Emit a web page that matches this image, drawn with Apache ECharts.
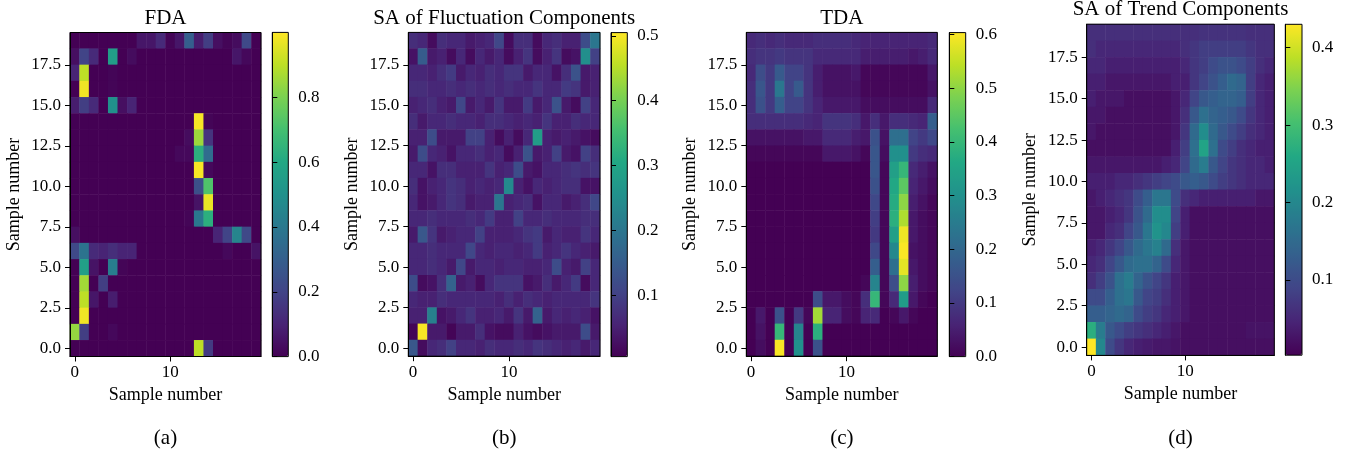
<!DOCTYPE html>
<html><head><meta charset="utf-8">
<script src="https://cdn.jsdelivr.net/npm/echarts@6/dist/echarts.min.js"></script>
<style>html,body{margin:0;padding:0;background:#fff}#c{width:1346px;height:456px}</style>
</head><body><div id="c"></div><script>
// ---------------- data ----------------
const sampleIdx = [0,1,2,3,4,5,6,7,8,9,10,11,12,13,14,15,16,17,18,19];
const xTicks = [0, 10];
const yTicks = [0, 2.5, 5, 7.5, 10, 12.5, 15, 17.5];
const titles = ['FDA', 'SA of Fluctuation Components', 'TDA', 'SA of Trend Components'];
const panelLabels = ['(a)', '(b)', '(c)', '(d)'];
const cbarTicks = [[0, 0.2, 0.4, 0.6, 0.8], [0.1, 0.2, 0.3, 0.4, 0.5], [0, 0.1, 0.2, 0.3, 0.4, 0.5, 0.6], [0.1, 0.2, 0.3, 0.4]];
const cbarMin = [0, 0.005, 0, 0.003];
const cbarMax = [1.0, 0.505, 0.604, 0.43];

// rows listed from top (sample 19) to bottom (sample 0)
const fdaRows = [
[0,0,0,0,0,0,0,0.06,0.06,0.12,0.01,0.06,0.3,0.08,0.18,0.04,0.01,0.03,0.22,0],
[0.04,0.2,0.12,0,0.55,0,0.03,0,0,0,0,0,0,0,0,0,0,0.06,0.02,0],
[0.1,0.9,0,0,0.01,0,0,0,0,0,0,0,0,0,0,0,0,0,0,0],
[0,0.98,0,0,0.01,0,0,0,0,0,0,0,0,0,0,0,0,0,0,0],
[0.08,0.18,0.12,0,0.5,0.04,0.1,0,0,0,0,0,0,0,0,0,0,0,0,0],
[0,0,0,0,0,0,0,0,0,0,0,0,0,0.99,0.01,0,0,0,0,0],
[0,0,0,0,0,0,0,0,0,0,0,0,0.03,0.85,0.15,0,0,0,0,0],
[0,0,0,0,0,0,0,0,0,0,0,0.02,0.02,0.63,0.35,0,0,0,0,0],
[0,0,0,0,0,0,0,0,0,0,0,0,0,0.99,0.02,0,0,0,0,0],
[0,0,0,0,0,0,0,0,0,0,0,0,0,0.24,0.72,0,0,0,0,0],
[0,0,0,0,0,0,0,0,0,0,0,0,0,0.05,0.97,0,0,0,0,0],
[0,0,0,0,0,0,0,0,0,0,0,0,0.01,0.4,0.63,0,0,0,0,0],
[0.04,0,0,0,0,0,0,0,0,0,0,0,0,0,0,0.1,0.2,0.45,0.22,0],
[0.22,0.38,0.12,0.1,0.13,0.1,0.1,0,0,0,0,0,0,0,0,0,0.02,0,0,0.05],
[0,0.56,0.05,0,0.42,0.01,0,0,0,0,0,0,0,0,0,0,0,0,0,0],
[0,0.86,0,0.18,0,0,0,0,0,0,0,0,0,0,0,0,0,0,0,0],
[0,0.9,0.06,0,0.08,0,0,0,0,0,0,0,0,0,0,0,0,0,0,0],
[0,0.98,0,0,0,0,0,0,0,0,0,0,0,0,0,0,0,0,0,0],
[0.84,0.18,0,0,0.02,0,0,0,0,0,0,0,0,0,0,0,0,0,0,0],
[0,0,0,0,0,0,0,0,0,0,0,0,0,0.9,0.17,0,0,0,0,0]
];
const fluctRows = [
[0.07,0.06,0.02,0.07,0.06,0.06,0.04,0.05,0.06,0.11,0.02,0.07,0.07,0.02,0.06,0.07,0.05,0.05,0.12,0.2],
[0.03,0.15,0.04,0.05,0.02,0.06,0.02,0.06,0.04,0.06,0.02,0.05,0.08,0.02,0.05,0.08,0.02,0.03,0.25,0.1],
[0.06,0.06,0.05,0.07,0.09,0.04,0.06,0.05,0.07,0.06,0.08,0.08,0.04,0.06,0.06,0.03,0.07,0.13,0.04,0.05],
[0.07,0.07,0.06,0.06,0.07,0.06,0.07,0.06,0.07,0.06,0.07,0.06,0.06,0.08,0.06,0.06,0.09,0.08,0.04,0.05],
[0.05,0.06,0.07,0.05,0.04,0.11,0.04,0.06,0.04,0.08,0.04,0.04,0.09,0.04,0.06,0.13,0.04,0.02,0.1,0.06],
[0.07,0.04,0.06,0.06,0.07,0.06,0.06,0.05,0.07,0.07,0.06,0.05,0.06,0.05,0.08,0.05,0.05,0.07,0.06,0.06],
[0.05,0.05,0.12,0.04,0.04,0.04,0.1,0.1,0.05,0.02,0.05,0.02,0.06,0.28,0.05,0.04,0.05,0.04,0.03,0.02],
[0.04,0.12,0.06,0.05,0.03,0.06,0.06,0.07,0.05,0.06,0.02,0.05,0.13,0.04,0.05,0.1,0.04,0.03,0.1,0.07],
[0.06,0.06,0.03,0.07,0.07,0.05,0.05,0.05,0.08,0.05,0.06,0.12,0.04,0.03,0.06,0.06,0.07,0.08,0.07,0.08],
[0.07,0.03,0.05,0.06,0.08,0.07,0.05,0.06,0.05,0.06,0.24,0.05,0.03,0.06,0.05,0.06,0.07,0.07,0.03,0.03],
[0.06,0.03,0.04,0.06,0.08,0.07,0.04,0.05,0.05,0.2,0.05,0.06,0.07,0.03,0.06,0.06,0.04,0.05,0.07,0.11],
[0.06,0.06,0.07,0.06,0.06,0.06,0.07,0.06,0.09,0.05,0.05,0.1,0.06,0.06,0.07,0.06,0.06,0.06,0.07,0.07],
[0.04,0.14,0.08,0.04,0.05,0.06,0.06,0.1,0.05,0.05,0.05,0.06,0.08,0.09,0.04,0.06,0.05,0.05,0.08,0.06],
[0.06,0.06,0.07,0.06,0.06,0.06,0.11,0.06,0.05,0.06,0.06,0.05,0.06,0.09,0.05,0.06,0.08,0.06,0.05,0.04],
[0.06,0.06,0.07,0.06,0.04,0.11,0.04,0.06,0.06,0.05,0.06,0.06,0.05,0.05,0.06,0.12,0.05,0.04,0.1,0.06],
[0.12,0.02,0.03,0.07,0.16,0.04,0.05,0.02,0.06,0.08,0.08,0.08,0.03,0.04,0.07,0.04,0.06,0.09,0.02,0.06],
[0.06,0.05,0.05,0.07,0.06,0.06,0.06,0.06,0.06,0.05,0.07,0.05,0.07,0.06,0.05,0.06,0.06,0.06,0.06,0.08],
[0.05,0.05,0.22,0.03,0.04,0.06,0.08,0.05,0.05,0.06,0.04,0.08,0.04,0.16,0.04,0.06,0.05,0.06,0.05,0.03],
[0.01,0.5,0.04,0.04,0.01,0.04,0.04,0.07,0.03,0.02,0.02,0.05,0.03,0.02,0.03,0.04,0.04,0.04,0.12,0.04],
[0.14,0.02,0.06,0.07,0.1,0.06,0.06,0.05,0.07,0.06,0.06,0.07,0.06,0.08,0.07,0.06,0.05,0.06,0.04,0.06]
];
const tdaRows = [
[0.07,0.08,0.07,0.08,0.07,0.07,0.07,0.08,0.08,0.08,0.08,0.07,0.06,0.06,0.06,0.06,0.06,0.06,0.06,0.07],
[0.08,0.09,0.09,0.1,0.09,0.09,0.09,0.07,0.07,0.07,0.07,0.07,0.05,0.05,0.05,0.05,0.05,0.04,0.05,0.07],
[0.07,0.14,0.1,0.17,0.12,0.12,0.09,0.05,0.03,0.03,0.03,0.04,0.01,0.01,0.01,0.01,0.01,0.01,0.01,0.04],
[0.08,0.16,0.1,0.24,0.12,0.17,0.09,0.05,0.03,0.03,0.03,0.03,0.01,0.01,0.01,0.01,0.01,0.01,0.01,0.03],
[0.08,0.15,0.1,0.18,0.12,0.12,0.09,0.06,0.04,0.04,0.04,0.04,0.02,0.02,0.02,0.02,0.02,0.02,0.02,0.07],
[0.08,0.08,0.08,0.08,0.08,0.08,0.07,0.06,0.09,0.09,0.09,0.08,0.04,0.08,0.04,0.08,0.08,0.07,0.06,0.18],
[0.03,0.03,0.03,0.03,0.03,0.03,0.04,0.04,0.07,0.07,0.07,0.05,0.04,0.15,0.03,0.22,0.22,0.12,0.1,0.13],
[0.01,0.01,0.01,0.01,0.01,0.01,0.01,0.01,0.04,0.04,0.04,0.03,0.01,0.16,0.02,0.3,0.3,0.1,0.08,0.07],
[0,0,0,0,0,0,0,0,0,0,0,0,0,0.16,0.01,0.34,0.4,0.07,0.05,0.03],
[0,0,0,0,0,0,0,0,0,0,0,0,0,0.15,0.01,0.36,0.45,0.06,0.04,0.02],
[0,0,0,0,0,0,0,0,0,0,0,0,0,0.13,0.01,0.37,0.5,0.05,0.03,0.01],
[0,0,0,0,0,0,0,0,0,0,0,0,0,0.11,0.01,0.38,0.53,0.04,0.02,0.01],
[0,0,0,0,0,0,0,0,0,0,0,0,0,0.1,0.01,0.34,0.59,0.04,0.02,0.01],
[0,0,0,0,0,0,0,0,0,0,0,0,0,0.13,0.01,0.28,0.6,0.03,0.02,0.01],
[0,0,0,0,0,0,0,0,0,0,0,0,0,0.18,0.01,0.22,0.58,0.04,0.02,0.01],
[0,0,0,0,0,0,0,0,0,0,0,0,0.01,0.27,0.01,0.14,0.5,0.05,0.02,0.01],
[0,0,0,0,0,0,0,0.14,0.04,0.04,0.02,0.01,0.08,0.4,0.01,0.07,0.33,0.04,0.01,0],
[0,0.04,0,0.15,0,0.1,0.01,0.52,0.06,0.06,0.02,0.01,0.06,0.07,0,0.01,0.04,0.01,0,0],
[0,0.03,0,0.4,0,0.27,0,0.38,0,0,0,0,0,0,0,0,0,0,0,0],
[0,0.02,0,0.6,0,0.3,0,0.15,0,0,0,0,0,0,0,0,0,0,0,0]
];
const trendRows = [
[0.06,0.06,0.06,0.06,0.06,0.06,0.06,0.06,0.06,0.06,0.06,0.06,0.065,0.065,0.065,0.065,0.065,0.06,0.06,0.06],
[0.06,0.05,0.05,0.05,0.05,0.05,0.05,0.05,0.05,0.05,0.06,0.07,0.08,0.08,0.08,0.08,0.08,0.07,0.06,0.06],
[0.05,0.05,0.04,0.04,0.04,0.04,0.04,0.04,0.04,0.04,0.05,0.07,0.08,0.1,0.11,0.11,0.1,0.08,0.06,0.05],
[0.04,0.04,0.03,0.03,0.03,0.03,0.03,0.03,0.03,0.04,0.04,0.07,0.09,0.11,0.13,0.15,0.14,0.08,0.05,0.04],
[0.04,0.03,0.03,0.03,0.02,0.02,0.02,0.02,0.02,0.03,0.05,0.09,0.12,0.13,0.14,0.14,0.13,0.08,0.05,0.04],
[0.03,0.03,0.02,0.02,0.02,0.02,0.02,0.02,0.02,0.03,0.06,0.12,0.16,0.14,0.13,0.12,0.1,0.07,0.05,0.04],
[0.03,0.02,0.02,0.02,0.02,0.02,0.02,0.02,0.02,0.03,0.07,0.15,0.21,0.15,0.12,0.1,0.08,0.06,0.05,0.04],
[0.02,0.02,0.02,0.02,0.02,0.02,0.02,0.02,0.02,0.04,0.08,0.16,0.25,0.16,0.1,0.08,0.06,0.05,0.04,0.04],
[0.03,0.03,0.03,0.03,0.03,0.03,0.03,0.03,0.04,0.05,0.09,0.15,0.18,0.12,0.09,0.07,0.06,0.05,0.05,0.04],
[0.04,0.04,0.04,0.05,0.05,0.06,0.07,0.08,0.09,0.1,0.12,0.13,0.12,0.1,0.08,0.07,0.06,0.05,0.05,0.05],
[0.03,0.04,0.05,0.06,0.07,0.1,0.13,0.17,0.17,0.1,0.06,0.05,0.04,0.04,0.04,0.04,0.04,0.04,0.03,0.03],
[0.03,0.03,0.04,0.05,0.07,0.11,0.15,0.21,0.21,0.09,0.04,0.02,0.02,0.02,0.02,0.02,0.02,0.02,0.02,0.02],
[0.03,0.03,0.05,0.06,0.09,0.12,0.17,0.22,0.2,0.08,0.04,0.02,0.02,0.02,0.02,0.02,0.02,0.02,0.02,0.02],
[0.04,0.05,0.07,0.09,0.12,0.15,0.17,0.19,0.15,0.06,0.03,0.02,0.02,0.02,0.02,0.02,0.02,0.02,0.02,0.02],
[0.05,0.06,0.09,0.12,0.15,0.16,0.16,0.14,0.1,0.05,0.03,0.02,0.02,0.02,0.02,0.02,0.02,0.02,0.02,0.02],
[0.06,0.08,0.11,0.16,0.18,0.14,0.11,0.09,0.07,0.04,0.03,0.02,0.02,0.02,0.02,0.02,0.02,0.02,0.02,0.02],
[0.1,0.1,0.13,0.16,0.17,0.12,0.09,0.08,0.06,0.04,0.03,0.02,0.02,0.02,0.02,0.02,0.02,0.02,0.02,0.02],
[0.13,0.13,0.14,0.15,0.14,0.1,0.08,0.07,0.05,0.04,0.03,0.02,0.02,0.02,0.02,0.02,0.02,0.02,0.02,0.02],
[0.27,0.18,0.12,0.1,0.08,0.07,0.06,0.05,0.04,0.03,0.02,0.02,0.02,0.02,0.02,0.02,0.02,0.025,0.025,0.025],
[0.43,0.2,0.1,0.07,0.05,0.04,0.035,0.03,0.03,0.025,0.02,0.02,0.02,0.02,0.02,0.02,0.02,0.02,0.02,0.02]
];
const panels = [fdaRows, fluctRows, tdaRows, trendRows];

// ---------------- layout / style ----------------
const FONT = '"Liberation Serif", "Times New Roman", serif';
const viridis = ['#440154','#482475','#414487','#355f8d','#2a788e','#21918c','#22a884','#44bf70','#7ad151','#bddf26','#fde725'];
const plotBoxes = [
  {left: 70, top: 32.5, width: 191, height: 324},
  {left: 408.3, top: 32.4, width: 191.7, height: 323.8},
  {left: 746.3, top: 32.4, width: 191, height: 323.8},
  {left: 1086.7, top: 24.2, width: 187.6, height: 331.2}
];
const cbarBoxes = [
  {left: 272.3, top: 32.4, width: 16, height: 324.2},
  {left: 611, top: 32.6, width: 16.3, height: 324},
  {left: 949.3, top: 32.6, width: 16.4, height: 324},
  {left: 1285.3, top: 24.3, width: 16.7, height: 330.9}
];
const titleTop = [8, 8, 8, -1];

const black = {color: '#000', width: 1};
const grid = [], xAxis = [], yAxis = [], series = [], visualMap = [], graphic = [];

function toData(rows) {
  const out = [];
  rows.forEach((row, i) => {
    const y = rows.length - 1 - i;
    row.forEach((v, x) => out.push([x, y, v]));
  });
  return out;
}

plotBoxes.forEach((b, p) => {
  grid.push(Object.assign({show: true, borderColor: '#000', borderWidth: 1, backgroundColor: 'rgba(0,0,0,0)', z: 10, outerBoundsMode: 'none', containLabel: false}, b));
});
cbarBoxes.forEach((b, p) => {
  grid.push(Object.assign({show: true, borderColor: '#000', borderWidth: 1, backgroundColor: 'rgba(0,0,0,0)', z: 10, outerBoundsMode: 'none', containLabel: false}, b));
});

plotBoxes.forEach((b, p) => {
  xAxis.push({gridIndex: p, type: 'category', data: sampleIdx, show: false});
  xAxis.push({
    gridIndex: p, type: 'value', min: -0.5, max: 19.5, position: 'bottom', z: 11,
    axisLine: {show: true, onZero: false, lineStyle: black},
    axisTick: {show: true, length: 5, customValues: xTicks, lineStyle: black},
    axisLabel: {customValues: xTicks, margin: 8, color: '#000', fontFamily: FONT, fontSize: 17, formatter: v => String(v)},
    splitLine: {show: false},
    name: 'Sample number', nameLocation: 'middle', nameGap: 28,
    nameTextStyle: {color: '#000', fontFamily: FONT, fontSize: 18}
  });
  yAxis.push({gridIndex: p, type: 'category', data: sampleIdx, show: false});
  yAxis.push({
    gridIndex: p, type: 'value', min: -0.5, max: 19.5, position: 'left', z: 11,
    axisLine: {show: true, onZero: false, lineStyle: black},
    axisTick: {show: true, length: 5, customValues: yTicks, lineStyle: black},
    axisLabel: {customValues: yTicks, margin: 9, color: '#000', fontFamily: FONT, fontSize: 17, formatter: v => v.toFixed(1)},
    splitLine: {show: false},
    name: 'Sample number', nameLocation: 'middle', nameGap: 47,
    nameTextStyle: {color: '#000', fontFamily: FONT, fontSize: 18}
  });
  series.push({
    type: 'heatmap', xAxisIndex: 2 * p, yAxisIndex: 2 * p,
    data: toData(panels[p]), progressive: 0,
    itemStyle: {borderWidth: 0},
    emphasis: {disabled: true}
  });
});

cbarBoxes.forEach((b, p) => {
  xAxis.push({gridIndex: 4 + p, type: 'value', show: false, min: 0, max: 1});
  yAxis.push({
    gridIndex: 4 + p, type: 'value', position: 'right', min: cbarMin[p], max: cbarMax[p], z: 11,
    axisLine: {show: true, lineStyle: black},
    axisTick: {show: true, length: 5, customValues: cbarTicks[p], lineStyle: black},
    axisLabel: {customValues: cbarTicks[p], margin: 10, color: '#000', fontFamily: FONT, fontSize: 17, formatter: v => v.toFixed(1)},
    splitLine: {show: false}
  });
  visualMap.push({
    type: 'continuous', seriesIndex: p, dimension: 2,
    min: cbarMin[p], max: cbarMax[p],
    inRange: {color: viridis},
    orient: 'vertical', left: b.left, top: b.top,
    itemWidth: b.width, itemHeight: b.height,
    padding: 0, calculable: false, hoverLink: false, realtime: false,
    text: null, showLabel: false, z: 4
  });
  graphic.push({
    type: 'text', x: plotBoxes[p].left + plotBoxes[p].width / 2, y: titleTop[p],
    style: {text: titles[p], fill: '#000', font: '21px ' + FONT, align: 'center', verticalAlign: 'top'}
  });
  graphic.push({
    type: 'text', x: plotBoxes[p].left + plotBoxes[p].width / 2, y: 428,
    style: {text: panelLabels[p], fill: '#000', font: '21px ' + FONT, align: 'center', verticalAlign: 'top'}
  });
});

const chart = echarts.init(document.getElementById('c'), null, {renderer: 'canvas'});
chart.setOption({
  animation: false,
  backgroundColor: '#fff',
  grid, xAxis, yAxis, series, visualMap, graphic
});
</script></body></html>
